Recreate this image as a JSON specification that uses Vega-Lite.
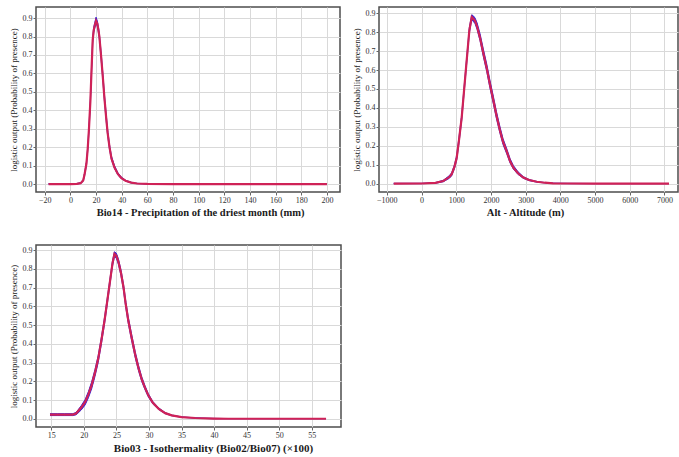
{
  "$schema": "https://vega.github.io/schema/vega-lite/v6.json",
  "background": "white",
  "padding": {"left": 8, "top": 6, "right": 0, "bottom": 0},
  "config": {
    "font": "Liberation Serif",
    "view": {"stroke": "#4d4d4d", "strokeWidth": 1.5},
    "axis": {
      "labelFont": "Liberation Serif", "labelFontSize": 8, "labelColor": "#333333",
      "titleFont": "Liberation Serif", "titleColor": "#1a1a1a",
      "gridColor": "#d9d9d9", "gridWidth": 1, "domain": false,
      "tickColor": "#666666", "tickSize": 3, "labelPadding": 1, "labelFlush": false
    },
    "axisX": {"titleFontSize": 10.5, "titleFontWeight": "bold", "titlePadding": 3},
    "axisY": {"titleFontSize": 9, "titleFontWeight": "normal", "titlePadding": 4}
  },
  "datasets": {
    "bio14": [
      {"x": -17, "y": 0, "lo": 0, "hi": 0.002},
      {"x": 0, "y": 0, "lo": 0, "hi": 0.002},
      {"x": 5, "y": 0.001, "lo": 0, "hi": 0.003},
      {"x": 8, "y": 0.005, "lo": 0.003, "hi": 0.008},
      {"x": 10, "y": 0.02, "lo": 0.015, "hi": 0.025},
      {"x": 11, "y": 0.05, "lo": 0.043, "hi": 0.057},
      {"x": 12.5, "y": 0.11, "lo": 0.1, "hi": 0.12},
      {"x": 13.5, "y": 0.19, "lo": 0.178, "hi": 0.2},
      {"x": 14.5, "y": 0.3, "lo": 0.285, "hi": 0.312},
      {"x": 15.6, "y": 0.45, "lo": 0.435, "hi": 0.465},
      {"x": 16.5, "y": 0.62, "lo": 0.6, "hi": 0.635},
      {"x": 17.4, "y": 0.78, "lo": 0.76, "hi": 0.8},
      {"x": 18.2, "y": 0.835, "lo": 0.82, "hi": 0.85},
      {"x": 19, "y": 0.86, "lo": 0.845, "hi": 0.875},
      {"x": 20, "y": 0.885, "lo": 0.87, "hi": 0.905},
      {"x": 21, "y": 0.87, "lo": 0.855, "hi": 0.885},
      {"x": 22, "y": 0.83, "lo": 0.815, "hi": 0.845},
      {"x": 22.6, "y": 0.8, "lo": 0.785, "hi": 0.815},
      {"x": 24, "y": 0.69, "lo": 0.675, "hi": 0.71},
      {"x": 25.3, "y": 0.58, "lo": 0.565, "hi": 0.6},
      {"x": 26.5, "y": 0.47, "lo": 0.455, "hi": 0.49},
      {"x": 27.9, "y": 0.36, "lo": 0.345, "hi": 0.38},
      {"x": 29, "y": 0.28, "lo": 0.267, "hi": 0.298},
      {"x": 30.5, "y": 0.2, "lo": 0.19, "hi": 0.215},
      {"x": 32, "y": 0.14, "lo": 0.132, "hi": 0.152},
      {"x": 34.4, "y": 0.09, "lo": 0.084, "hi": 0.1},
      {"x": 37, "y": 0.055, "lo": 0.05, "hi": 0.062},
      {"x": 39.6, "y": 0.034, "lo": 0.03, "hi": 0.039},
      {"x": 43, "y": 0.018, "lo": 0.016, "hi": 0.021},
      {"x": 47.4, "y": 0.008, "lo": 0.006, "hi": 0.01},
      {"x": 52, "y": 0.003, "lo": 0.002, "hi": 0.004},
      {"x": 60, "y": 0.001, "lo": 0, "hi": 0.002},
      {"x": 80, "y": 0, "lo": 0, "hi": 0.001},
      {"x": 200, "y": 0, "lo": 0, "hi": 0.001}
    ],
    "alt": [
      {"x": -800, "y": 0, "lo": 0, "hi": 0.002},
      {"x": 0, "y": 0.001, "lo": 0, "hi": 0.002},
      {"x": 400, "y": 0.004, "lo": 0.002, "hi": 0.006},
      {"x": 628, "y": 0.014, "lo": 0.01, "hi": 0.018},
      {"x": 800, "y": 0.035, "lo": 0.028, "hi": 0.042},
      {"x": 870, "y": 0.05, "lo": 0.042, "hi": 0.058},
      {"x": 950, "y": 0.09, "lo": 0.08, "hi": 0.1},
      {"x": 1014, "y": 0.137, "lo": 0.125, "hi": 0.15},
      {"x": 1080, "y": 0.23, "lo": 0.215, "hi": 0.245},
      {"x": 1158, "y": 0.35, "lo": 0.335, "hi": 0.365},
      {"x": 1220, "y": 0.48, "lo": 0.465, "hi": 0.495},
      {"x": 1282, "y": 0.61, "lo": 0.595, "hi": 0.625},
      {"x": 1330, "y": 0.71, "lo": 0.695, "hi": 0.725},
      {"x": 1378, "y": 0.81, "lo": 0.795, "hi": 0.825},
      {"x": 1447, "y": 0.88, "lo": 0.865, "hi": 0.892},
      {"x": 1500, "y": 0.87, "lo": 0.855, "hi": 0.885},
      {"x": 1542, "y": 0.86, "lo": 0.845, "hi": 0.875},
      {"x": 1600, "y": 0.83, "lo": 0.815, "hi": 0.85},
      {"x": 1686, "y": 0.77, "lo": 0.755, "hi": 0.792},
      {"x": 1780, "y": 0.69, "lo": 0.672, "hi": 0.712},
      {"x": 1879, "y": 0.61, "lo": 0.592, "hi": 0.632},
      {"x": 1970, "y": 0.525, "lo": 0.507, "hi": 0.547},
      {"x": 2069, "y": 0.44, "lo": 0.422, "hi": 0.462},
      {"x": 2160, "y": 0.36, "lo": 0.343, "hi": 0.38},
      {"x": 2262, "y": 0.28, "lo": 0.265, "hi": 0.299},
      {"x": 2350, "y": 0.22, "lo": 0.206, "hi": 0.237},
      {"x": 2455, "y": 0.17, "lo": 0.158, "hi": 0.185},
      {"x": 2550, "y": 0.12, "lo": 0.11, "hi": 0.133},
      {"x": 2646, "y": 0.085, "lo": 0.077, "hi": 0.096},
      {"x": 2780, "y": 0.055, "lo": 0.049, "hi": 0.063},
      {"x": 2934, "y": 0.032, "lo": 0.028, "hi": 0.037},
      {"x": 3100, "y": 0.019, "lo": 0.016, "hi": 0.022},
      {"x": 3320, "y": 0.01, "lo": 0.008, "hi": 0.012},
      {"x": 3550, "y": 0.005, "lo": 0.004, "hi": 0.006},
      {"x": 3790, "y": 0.002, "lo": 0.001, "hi": 0.003},
      {"x": 4200, "y": 0.001, "lo": 0, "hi": 0.002},
      {"x": 5000, "y": 0, "lo": 0, "hi": 0.001},
      {"x": 7130, "y": 0, "lo": 0, "hi": 0.001}
    ],
    "bio03": [
      {"x": 14.8, "y": 0.022, "lo": 0.017, "hi": 0.027},
      {"x": 16, "y": 0.022, "lo": 0.017, "hi": 0.027},
      {"x": 17, "y": 0.022, "lo": 0.017, "hi": 0.027},
      {"x": 18.3, "y": 0.022, "lo": 0.017, "hi": 0.027},
      {"x": 18.8, "y": 0.028, "lo": 0.021, "hi": 0.034},
      {"x": 19.1, "y": 0.04, "lo": 0.03, "hi": 0.047},
      {"x": 19.6, "y": 0.06, "lo": 0.047, "hi": 0.07},
      {"x": 20.2, "y": 0.09, "lo": 0.074, "hi": 0.103},
      {"x": 20.7, "y": 0.13, "lo": 0.112, "hi": 0.145},
      {"x": 21.2, "y": 0.18, "lo": 0.16, "hi": 0.197},
      {"x": 21.7, "y": 0.245, "lo": 0.225, "hi": 0.262},
      {"x": 22.2, "y": 0.32, "lo": 0.3, "hi": 0.337},
      {"x": 22.7, "y": 0.42, "lo": 0.4, "hi": 0.437},
      {"x": 23.2, "y": 0.53, "lo": 0.512, "hi": 0.546},
      {"x": 23.6, "y": 0.63, "lo": 0.613, "hi": 0.645},
      {"x": 24, "y": 0.73, "lo": 0.714, "hi": 0.745},
      {"x": 24.4, "y": 0.83, "lo": 0.815, "hi": 0.844},
      {"x": 24.7, "y": 0.88, "lo": 0.866, "hi": 0.892},
      {"x": 25, "y": 0.87, "lo": 0.856, "hi": 0.884},
      {"x": 25.3, "y": 0.84, "lo": 0.826, "hi": 0.855},
      {"x": 25.7, "y": 0.78, "lo": 0.765, "hi": 0.796},
      {"x": 26.1, "y": 0.7, "lo": 0.684, "hi": 0.717},
      {"x": 26.4, "y": 0.62, "lo": 0.604, "hi": 0.638},
      {"x": 26.8, "y": 0.53, "lo": 0.514, "hi": 0.548},
      {"x": 27.3, "y": 0.44, "lo": 0.424, "hi": 0.458},
      {"x": 27.9, "y": 0.34, "lo": 0.325, "hi": 0.357},
      {"x": 28.4, "y": 0.27, "lo": 0.256, "hi": 0.285},
      {"x": 28.9, "y": 0.21, "lo": 0.198, "hi": 0.223},
      {"x": 29.4, "y": 0.165, "lo": 0.155, "hi": 0.176},
      {"x": 29.9, "y": 0.125, "lo": 0.117, "hi": 0.134},
      {"x": 30.6, "y": 0.085, "lo": 0.079, "hi": 0.092},
      {"x": 31.5, "y": 0.053, "lo": 0.049, "hi": 0.058},
      {"x": 32.5, "y": 0.03, "lo": 0.027, "hi": 0.033},
      {"x": 33.5, "y": 0.018, "lo": 0.016, "hi": 0.02},
      {"x": 35, "y": 0.009, "lo": 0.008, "hi": 0.01},
      {"x": 37.1, "y": 0.004, "lo": 0.003, "hi": 0.005},
      {"x": 40, "y": 0.001, "lo": 0, "hi": 0.002},
      {"x": 42.2, "y": 0, "lo": 0, "hi": 0.001},
      {"x": 50, "y": 0, "lo": 0, "hi": 0.001},
      {"x": 57.2, "y": 0, "lo": 0, "hi": 0.001}
    ]
  },
  "spacing": 25,
  "vconcat": [
    {
      "spacing": 10,
      "hconcat": [
        {
          "width": 304,
          "height": 185,
          "data": {"name": "bio14"},
          "encoding": {
            "x": {"field": "x", "type": "quantitative", "scale": {"domain": [-26.8, 210.2], "nice": false, "zero": false},
                  "axis": {"title": "Bio14 - Precipitation of the driest month (mm)", "values": [-20, 0, 20, 40, 60, 80, 100, 120, 140, 160, 180, 200], "titleX": 164}},
            "y": {"field": "y", "type": "quantitative", "scale": {"domain": [-0.043, 0.96], "nice": false, "zero": false},
                  "axis": {"title": "logistic output (Probability of presence)", "values": [0, 0.1, 0.2, 0.3, 0.4, 0.5, 0.6, 0.7, 0.8, 0.9], "format": ".1f"}}
          },
          "layer": [
            {"mark": {"type": "area", "color": "#3a24d4"}, "encoding": {"y": {"field": "lo", "type": "quantitative"}, "y2": {"field": "hi"}}},
            {"mark": {"type": "line", "color": "#3a24d4", "strokeWidth": 1}, "encoding": {"y": {"field": "hi", "type": "quantitative"}}},
            {"mark": {"type": "line", "color": "#3a24d4", "strokeWidth": 1}, "encoding": {"y": {"field": "lo", "type": "quantitative"}}},
            {"mark": {"type": "line", "color": "#cf2257", "strokeWidth": 2.2}, "encoding": {}}
          ]
        },
        {
          "width": 299,
          "height": 185,
          "data": {"name": "alt"},
          "encoding": {
            "x": {"field": "x", "type": "quantitative", "scale": {"domain": [-1225, 7390], "nice": false, "zero": false},
                  "axis": {"title": "Alt - Altitude (m)", "values": [-1000, 0, 1000, 2000, 3000, 4000, 5000, 6000, 7000], "format": "d", "titleX": 146}},
            "y": {"field": "y", "type": "quantitative", "scale": {"domain": [-0.044, 0.933], "nice": false, "zero": false},
                  "axis": {"title": "logistic output (Probability of presence)", "values": [0, 0.1, 0.2, 0.3, 0.4, 0.5, 0.6, 0.7, 0.8, 0.9], "format": ".1f"}}
          },
          "layer": [
            {"mark": {"type": "area", "color": "#3a24d4"}, "encoding": {"y": {"field": "lo", "type": "quantitative"}, "y2": {"field": "hi"}}},
            {"mark": {"type": "line", "color": "#3a24d4", "strokeWidth": 1}, "encoding": {"y": {"field": "hi", "type": "quantitative"}}},
            {"mark": {"type": "line", "color": "#3a24d4", "strokeWidth": 1}, "encoding": {"y": {"field": "lo", "type": "quantitative"}}},
            {"mark": {"type": "line", "color": "#cf2257", "strokeWidth": 2.2}, "encoding": {}}
          ]
        }
      ]
    },
    {
      "width": 305,
      "height": 182,
      "data": {"name": "bio03"},
      "encoding": {
        "x": {"field": "x", "type": "quantitative", "scale": {"domain": [12.65, 59.5], "nice": false, "zero": false},
              "axis": {"title": "Bio03 - Isothermality (Bio02/Bio07) (×100)", "values": [15, 20, 25, 30, 35, 40, 45, 50, 55], "titleX": 177, "titleFontSize": 11}},
        "y": {"field": "y", "type": "quantitative", "scale": {"domain": [-0.044, 0.928], "nice": false, "zero": false},
              "axis": {"title": "logistic output (Probability of presence)", "values": [0, 0.1, 0.2, 0.3, 0.4, 0.5, 0.6, 0.7, 0.8, 0.9], "format": ".1f"}}
      },
      "layer": [
        {"mark": {"type": "area", "color": "#3a24d4"}, "encoding": {"y": {"field": "lo", "type": "quantitative"}, "y2": {"field": "hi"}}},
        {"mark": {"type": "line", "color": "#3a24d4", "strokeWidth": 1}, "encoding": {"y": {"field": "hi", "type": "quantitative"}}},
        {"mark": {"type": "line", "color": "#3a24d4", "strokeWidth": 1}, "encoding": {"y": {"field": "lo", "type": "quantitative"}}},
        {"mark": {"type": "line", "color": "#cf2257", "strokeWidth": 2.2}, "encoding": {}}
      ]
    }
  ]
}
